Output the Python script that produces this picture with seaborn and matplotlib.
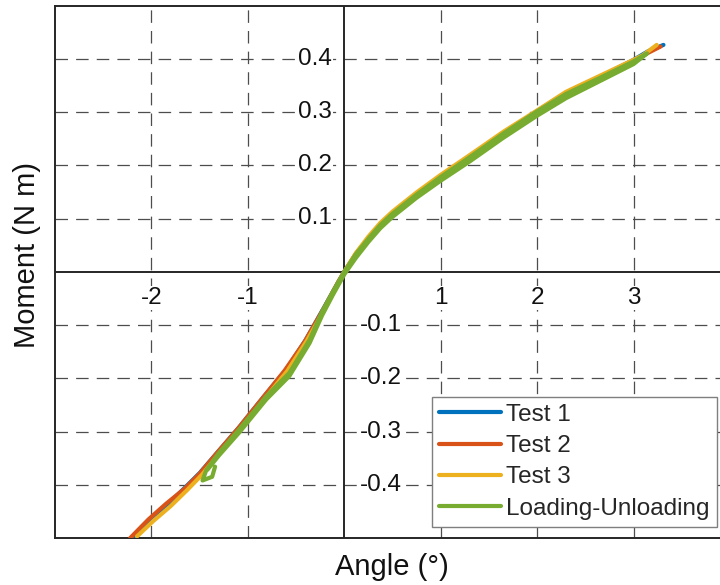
import matplotlib
matplotlib.use("Agg")
import matplotlib.pyplot as plt
import seaborn as sns
import numpy as np
import pandas as pd

# Moment-angle curves of three static tests and one loading-unloading cycle
test1_angle = [-2.18, -2.0, -1.82, -1.65, -1.5, -1.3, -1.09, -0.85, -0.6, -0.4, -0.2, -0.05,
               0.0, 0.12, 0.25, 0.375, 0.5, 0.625, 0.75, 1.0, 1.3, 1.65, 2.0, 2.3, 2.65, 3.0, 3.15, 3.31]
test1_moment = [-0.5, -0.462, -0.435, -0.405, -0.378, -0.336, -0.292, -0.238, -0.183, -0.128, -0.064, -0.016,
                0.0, 0.032, 0.061, 0.087, 0.108, 0.126, 0.144, 0.177, 0.214, 0.259, 0.302, 0.336, 0.366, 0.398, 0.414, 0.426]

test2_angle = [-2.22, -2.03, -1.85, -1.66, -1.5, -1.31, -1.1, -0.86, -0.62, -0.41, -0.21, -0.06,
               0.0, 0.12, 0.25, 0.375, 0.5, 0.625, 0.75, 1.0, 1.3, 1.65, 2.0, 2.3, 2.65, 3.0, 3.15, 3.28]
test2_moment = [-0.5, -0.465, -0.436, -0.408, -0.379, -0.338, -0.294, -0.240, -0.186, -0.131, -0.068, -0.018,
                0.0, 0.034, 0.063, 0.089, 0.110, 0.128, 0.146, 0.179, 0.216, 0.260, 0.300, 0.335, 0.365, 0.396, 0.411, 0.423]

test3_angle = [-2.15, -1.98, -1.8, -1.63, -1.48, -1.29, -1.08, -0.84, -0.59, -0.39, -0.19, -0.04,
               0.0, 0.12, 0.25, 0.375, 0.5, 0.625, 0.75, 1.0, 1.3, 1.65, 2.0, 2.3, 2.65, 3.0, 3.1, 3.24]
test3_moment = [-0.497, -0.468, -0.440, -0.410, -0.382, -0.340, -0.296, -0.242, -0.186, -0.130, -0.066, -0.014,
                0.0, 0.035, 0.066, 0.092, 0.113, 0.131, 0.149, 0.182, 0.219, 0.263, 0.303, 0.338, 0.368, 0.398, 0.407, 0.426]

loading_angle = [-1.34, -1.37, -1.47, -1.43, -1.30, -1.09, -0.81, -0.57, -0.36, -0.23, -0.12, 0.0,
                 0.12, 0.25, 0.375, 0.50, 0.625, 0.75, 1.0, 1.30, 1.645, 1.99, 2.30, 2.65, 3.0, 3.14]
loading_moment = [-0.366, -0.385, -0.392, -0.372, -0.340, -0.296, -0.234, -0.190, -0.128, -0.075, -0.038, 0.0,
                  0.033, 0.062, 0.088, 0.109, 0.127, 0.145, 0.178, 0.215, 0.259, 0.300, 0.334, 0.364, 0.395, 0.410]
unloading_angle = [3.14, 3.0, 2.65, 2.3, 1.99, 1.645, 1.3, 1.0, 0.75, 0.625, 0.5, 0.375, 0.25, 0.12, 0.0,
                   -0.12, -0.23, -0.36, -0.57, -0.81, -1.09, -1.30, -1.42]
unloading_moment = [0.410, 0.390, 0.358, 0.326, 0.292, 0.251, 0.207, 0.171, 0.139, 0.121, 0.103, 0.082, 0.056, 0.026, -0.005,
                    -0.044, -0.082, -0.134, -0.196, -0.240, -0.302, -0.345, -0.372]

x_ticks = [-2, -1, 1, 2, 3]
y_ticks = [-0.4, -0.3, -0.2, -0.1, 0.1, 0.2, 0.3, 0.4]
x_tick_labels = ["-2", "-1", "1", "2", "3"]
y_tick_labels = ["-0.4", "-0.3", "-0.2", "-0.1", "0.1", "0.2", "0.3", "0.4"]

series_names = ["Test 1", "Test 2", "Test 3", "Loading-Unloading"]
series_colors = ["#0072BD", "#D95319", "#EDB120", "#77AC30"]

sns.set_style("white")
plt.rcParams["font.family"] = ["Liberation Sans", "DejaVu Sans"]

fig = plt.figure(figsize=(7.2, 5.85), dpi=100)
ax = fig.add_axes([55 / 720, 47 / 585, 675 / 720, 532.5 / 585])

dark = "#262626"
ax.set_xlim(-3, 4)
ax.set_ylim(-0.5, 0.5)
ax.set_xticks(x_ticks)
ax.set_yticks(y_ticks)
ax.grid(True, linestyle=(0, (10, 6.5)), color="#4d4d4d", linewidth=0.9)
ax.tick_params(length=0, labelbottom=False, labelleft=False)
for s in ["left", "top", "bottom", "right"]:
    ax.spines[s].set_color(dark)
    ax.spines[s].set_linewidth(1.4)
ax.axhline(0, color=dark, lw=1.4, zorder=2)
ax.axvline(0, color=dark, lw=1.4, zorder=2)

frames = [
    (test1_angle, test1_moment, series_names[0], series_colors[0], 2.2),
    (test2_angle, test2_moment, series_names[1], series_colors[1], 2.2),
    (test3_angle, test3_moment, series_names[2], series_colors[2], 2.2),
    (loading_angle + unloading_angle, loading_moment + unloading_moment, series_names[3], series_colors[3], 4.4),
]
for xs, ys, name, col, lw in frames:
    df = pd.DataFrame({"Angle": xs, "Moment": ys})
    sns.lineplot(data=df, x="Angle", y="Moment", sort=False, estimator=None, color=col,
                 linewidth=lw, label=name, ax=ax, zorder=3)
ax.set_xlabel("")
ax.set_ylabel("")

# Tick labels next to the origin axes, on a white patch over the grid
tick_fs = 17.5
label_bg = dict(facecolor="white", edgecolor="none", pad=0.5)
for v, t in zip(x_ticks, x_tick_labels):
    ax.annotate(t, xy=(v, 0), xytext=(0, -11), textcoords="offset points",
                ha="center", va="top", fontsize=tick_fs, color="#111111",
                bbox=label_bg, zorder=2.5)
for v, t in zip(y_ticks, y_tick_labels):
    if v > 0:
        ax.annotate(t, xy=(0, v), xytext=(-9, 0), textcoords="offset points",
                    ha="right", va="center", fontsize=tick_fs, color="#111111",
                    bbox=label_bg, zorder=2.5)
    else:
        ax.annotate(t, xy=(0, v), xytext=(11, 0), textcoords="offset points",
                    ha="left", va="center", fontsize=tick_fs, color="#111111",
                    bbox=label_bg, zorder=2.5)

fig.text(392 / 720, 1 - 567 / 585, "Angle (°)", fontsize=21, color="#111111",
         ha="center", va="center")
fig.text(27 / 720, 1 - 255 / 585, "Moment (N m)", fontsize=21, color="#111111",
         ha="center", va="center", rotation=90)

handles, labels = ax.get_legend_handles_labels()
for h in handles:
    h.set_linewidth(3.0)
leg = ax.legend(handles, labels, loc="lower left", bbox_to_anchor=(432 / 720, 58 / 585),
                bbox_transform=fig.transFigure, borderaxespad=0, fontsize=17.5,
                handlelength=2.55, handletextpad=0.2, labelspacing=0.38, borderpad=0.3,
                frameon=True, fancybox=False, framealpha=1)
leg.get_frame().set_edgecolor("#7f7f7f")
leg.get_frame().set_linewidth(1.0)
leg.set_zorder(5)

fig.savefig("out.png", dpi=100)
